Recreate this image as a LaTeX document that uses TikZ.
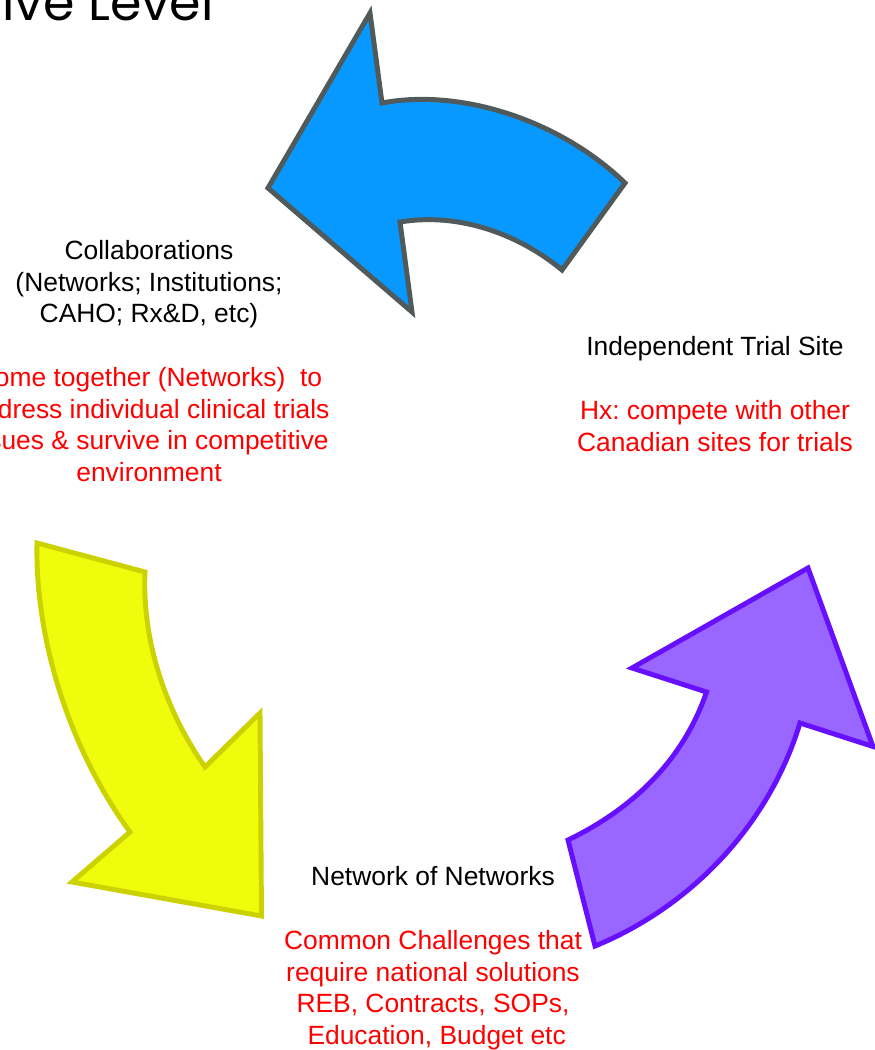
\documentclass[tikz,border=0pt]{standalone}
\usepackage{fontspec}
\setmainfont{Liberation Sans}
\newfontfamily\titlefont{Poppins}
\definecolor{bluefill}{RGB}{7,153,255}
\definecolor{bluedraw}{RGB}{80,90,90}
\definecolor{yelfill}{RGB}{239,253,12}
\definecolor{yeldraw}{RGB}{204,210,0}
\definecolor{purfill}{RGB}{153,102,255}
\definecolor{purdraw}{RGB}{102,16,255}
\definecolor{redtext}{RGB}{255,0,0}
\tikzset{
  bigarrow/.style={line width=3.7pt, line join=miter},
  label/.style={font=\fontsize{19.8}{23.8}\selectfont\frenchspacing, align=center, inner sep=0pt, anchor=north},
}
\begin{document}
\begin{tikzpicture}[x=0.75pt,y=-0.75pt]
\useasboundingbox (0,0) rectangle (875,1050);
\clip (0,0) rectangle (875,1050);
\fill[white] (0,0) rectangle (875,1050);

% title (cut off at top-left)
\node[anchor=base east, inner sep=0pt, font=\titlefont\fontsize{38}{40}\selectfont] (title) at (214,20) {ive Level};

% blue arrow (top)
\draw[bigarrow, fill=bluefill, draw=bluedraw]
  (370,13) -- (382,103)
  .. controls (460,88) and (560,120) .. (625,183)
  -- (562,270)
  .. controls (520,235) and (460,212) .. (400,222)
  -- (412,312) -- (268,188) -- cycle;

% yellow arrow (left)
\draw[bigarrow, fill=yelfill, draw=yeldraw]
  (37,543) -- (145,572)
  .. controls (142,640) and (165,710) .. (205,767)
  -- (260,713) -- (261.5,916) -- (72,882) -- (130,832)
  .. controls (70,750) and (35,640) .. (37,543) -- cycle;

% purple arrow (right)
\draw[bigarrow, fill=purfill, draw=purdraw]
  (595,946) -- (568,840)
  .. controls (620,815) and (680,770) .. (706.5,692)
  -- (632,668) -- (808,568) -- (873,746.5) -- (800,723)
  .. controls (768,828) and (688,908) .. (595,946) -- cycle;

% texts
\node[label] (collab) at (149,240) {Collaborations\\(Networks; Institutions;\\ CAHO; Rx\&D, etc)\\[23.8pt]
  \textcolor{redtext}{Come together (Networks)\ \ to}\\
  \textcolor{redtext}{address individual clinical trials}\\
  \textcolor{redtext}{issues \& survive in competitive}\\
  \textcolor{redtext}{environment}};

\node[label] (indep) at (715,336.5) {Independent Trial Site\\[23.8pt]
  \textcolor{redtext}{Hx: compete with other}\\
  \textcolor{redtext}{Canadian sites for trials}};

\node[label] (netnet) at (433,866.5) {Network of Networks\\[23.8pt]
  \textcolor{redtext}{Common Challenges that}\\
  \textcolor{redtext}{require national solutions}\\
  \textcolor{redtext}{REB, Contracts, SOPs,}\\
  \textcolor{redtext}{\ Education, Budget etc}};
\end{tikzpicture}
\end{document}
